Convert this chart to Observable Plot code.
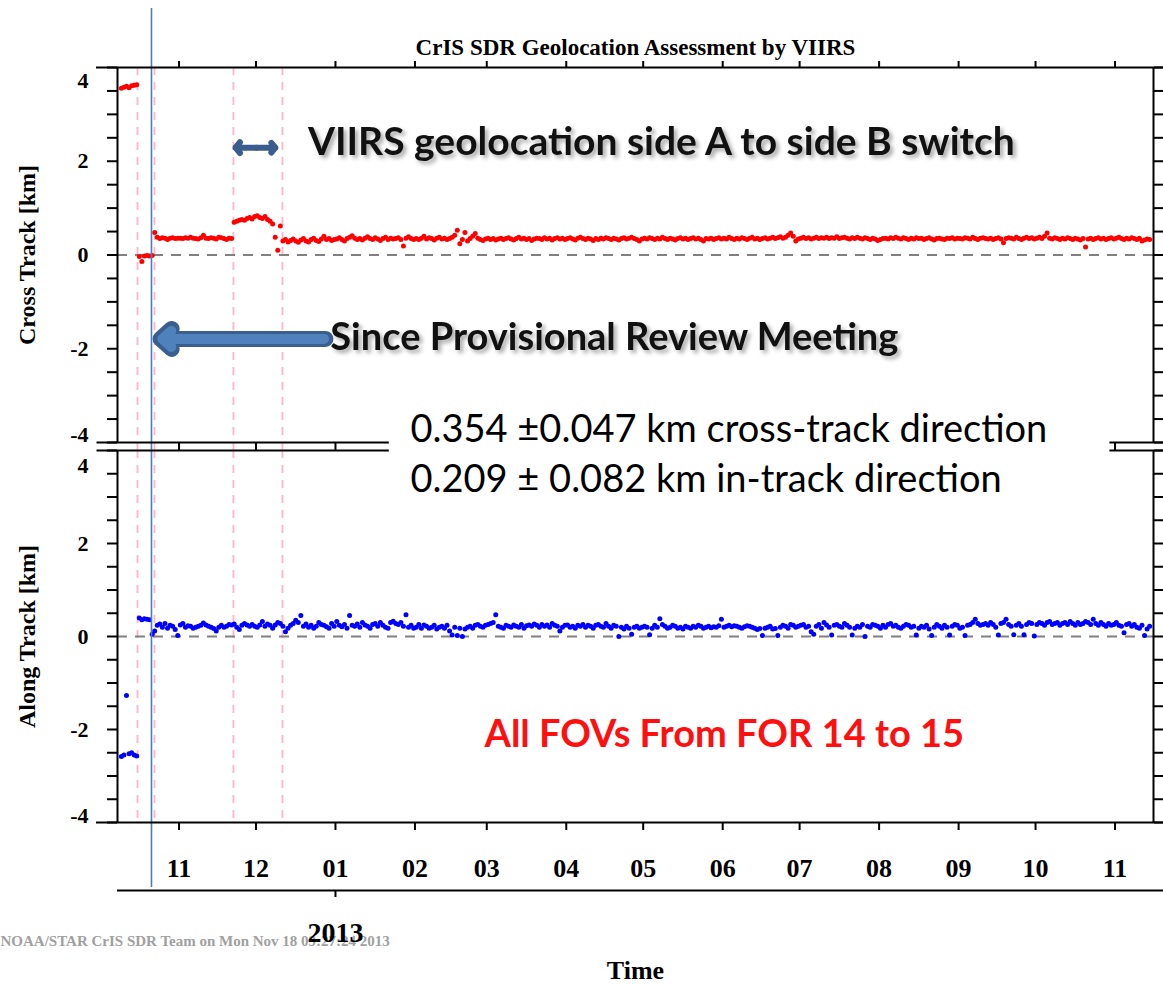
<!DOCTYPE html>
<html><head><meta charset="utf-8">
<script src="https://cdn.jsdelivr.net/npm/d3@7"></script>
<script src="https://cdn.jsdelivr.net/npm/@observablehq/plot@0.6"></script>
<style>
body{margin:0;background:#fff;}
#wrap{position:relative;width:1163px;height:985px;overflow:hidden;background:#fff;}
#wrap svg{position:absolute;left:0;overflow:visible;}
</style></head><body><div id="wrap"></div>
<script>
// ---------------- DATA ----------------
const firstDay = "2012-10-09";   // first daily observation (values are one per day)
// Cross-track offset [km], daily, 2012-10-09 .. 2013-11-14
const crossTrack = [
  // Oct 2012 (9-31)
  3.56,3.58,3.60,3.57,3.61,3.62,3.63,-0.03,-0.14,-0.02,-0.01,-0.02,-0.01,0.48,0.38,0.35,0.37,0.36,0.33,0.36,0.37,0.35,0.36,
  // Nov
  0.36,0.35,0.37,0.36,0.38,0.36,0.35,0.34,0.37,0.42,0.36,0.35,0.37,0.36,0.34,0.38,0.37,0.35,0.33,0.36,0.35,0.70,0.72,0.74,0.76,0.74,0.78,0.80,0.77,0.82,
  // Dec
  0.84,0.80,0.78,0.82,0.76,0.72,0.66,0.38,0.10,0.62,0.30,0.33,0.28,0.31,0.34,0.30,0.27,0.32,0.35,0.30,0.28,0.33,0.36,0.31,0.29,0.34,0.40,0.33,0.35,0.31,0.33,
  // Jan 2013
  0.34,0.37,0.33,0.30,0.35,0.38,0.41,0.36,0.33,0.35,0.32,0.36,0.39,0.35,0.33,0.37,0.34,0.31,0.35,0.38,0.33,0.36,0.34,0.35,0.37,0.33,0.19,0.36,0.39,0.35,0.33,
  // Feb
  0.35,0.33,0.36,0.40,0.34,0.37,0.35,0.32,0.36,0.38,0.34,0.36,0.33,0.35,0.38,0.42,0.53,0.24,0.33,0.48,0.30,0.35,0.40,0.46,0.36,0.33,0.31,0.34,
  // Mar
  0.36,0.33,0.35,0.32,0.34,0.36,0.33,0.35,0.37,0.34,0.32,0.35,0.38,0.34,0.36,0.33,0.35,0.31,0.34,0.36,0.35,0.33,0.37,0.34,0.36,0.32,0.35,0.37,0.34,0.36,0.33,
  // Apr
  0.35,0.37,0.34,0.32,0.36,0.38,0.35,0.33,0.36,0.34,0.31,0.35,0.33,0.36,0.34,0.37,0.35,0.33,0.36,0.34,0.32,0.35,0.37,0.34,0.36,0.38,0.35,0.33,0.30,0.34,
  // May
  0.36,0.34,0.37,0.35,0.33,0.36,0.34,0.38,0.35,0.33,0.36,0.34,0.32,0.35,0.37,0.34,0.36,0.33,0.35,0.37,0.34,0.36,0.33,0.30,0.35,0.34,0.36,0.33,0.35,0.37,0.34,
  // Jun
  0.36,0.34,0.38,0.35,0.33,0.36,0.34,0.37,0.35,0.33,0.36,0.38,0.34,0.36,0.33,0.35,0.37,0.34,0.36,0.38,0.35,0.37,0.39,0.36,0.38,0.42,0.47,0.40,0.30,0.34,
  // Jul
  0.36,0.38,0.35,0.37,0.34,0.36,0.38,0.35,0.37,0.36,0.38,0.35,0.37,0.36,0.39,0.35,0.37,0.38,0.36,0.34,0.37,0.35,0.38,0.36,0.34,0.37,0.35,0.33,0.36,0.34,0.31,
  // Aug
  0.33,0.35,0.36,0.34,0.37,0.35,0.38,0.36,0.34,0.37,0.35,0.33,0.36,0.34,0.37,0.35,0.36,0.33,0.35,0.37,0.34,0.32,0.35,0.36,0.34,0.33,0.36,0.35,0.37,0.34,0.36,
  // Sep
  0.35,0.34,0.37,0.36,0.34,0.38,0.35,0.33,0.36,0.37,0.35,0.34,0.36,0.33,0.35,0.37,0.34,0.26,0.35,0.37,0.36,0.34,0.38,0.35,0.33,0.36,0.38,0.35,0.37,0.34,
  // Oct
  0.36,0.38,0.35,0.40,0.47,0.36,0.34,0.37,0.35,0.33,0.36,0.34,0.37,0.35,0.33,0.36,0.34,0.32,0.35,0.17,0.34,0.36,0.33,0.35,0.37,0.34,0.36,0.33,0.35,0.37,0.34,
  // Nov (1-14)
  0.36,0.38,0.35,0.33,0.36,0.34,0.37,0.35,0.33,0.36,0.30,0.32,0.34,0.33
];
// Along-track offset [km], daily, 2012-10-09 .. 2013-11-14
const alongTrack = [
  // Oct 2012 (9-31)
  -2.58,-2.55,-1.27,-2.52,-2.50,-2.55,-2.57,0.40,0.36,0.38,0.37,0.36,0.05,0.12,0.24,0.27,0.20,0.28,0.18,0.24,0.22,0.15,0.02,
  // Nov
  0.25,0.28,0.20,0.23,0.22,0.18,0.20,0.22,0.24,0.29,0.25,0.22,0.20,0.17,0.12,0.20,0.24,0.20,0.22,0.26,0.25,0.27,0.20,0.15,0.24,0.28,0.25,0.22,0.26,0.22,
  // Dec
  0.20,0.25,0.32,0.22,0.27,0.24,0.18,0.25,0.30,0.28,0.22,0.10,0.18,0.24,0.28,0.35,0.30,0.45,0.22,0.27,0.20,0.24,0.18,0.22,0.30,0.26,0.24,0.21,0.18,0.28,0.22,
  // Jan 2013
  0.32,0.24,0.21,0.26,0.18,0.45,0.24,0.22,0.27,0.20,0.30,0.25,0.22,0.18,0.26,0.28,0.22,0.30,0.24,0.20,0.18,0.30,0.33,0.28,0.26,0.30,0.22,0.47,0.20,0.24,0.18,
  // Feb
  0.20,0.26,0.18,0.25,0.22,0.18,0.20,0.24,0.16,0.20,0.22,0.18,0.24,0.12,0.03,0.20,0.02,0.18,0.00,0.16,0.20,0.22,0.18,0.24,0.26,0.22,0.20,0.24,
  // Mar
  0.26,0.28,0.30,0.47,0.22,0.20,0.18,0.24,0.22,0.20,0.25,0.22,0.20,0.26,0.18,0.23,0.25,0.22,0.27,0.24,0.20,0.26,0.22,0.25,0.20,0.28,0.24,0.22,0.12,0.20,0.24,
  // Apr
  0.25,0.20,0.22,0.18,0.24,0.22,0.26,0.20,0.24,0.22,0.18,0.24,0.26,0.22,0.20,0.28,0.22,0.18,0.24,0.22,0.00,0.20,0.16,0.22,0.18,0.05,0.20,0.22,0.18,0.20,
  // May
  0.22,0.20,0.04,0.18,0.24,0.20,0.38,0.26,0.22,0.18,0.20,0.24,0.22,0.18,0.20,0.16,0.22,0.20,0.18,0.22,0.20,0.24,0.22,0.18,0.20,0.22,0.19,0.21,0.20,0.23,0.37,
  // Jun
  0.20,0.22,0.24,0.21,0.23,0.22,0.20,0.18,0.21,0.23,0.22,0.20,0.18,0.15,0.17,0.02,0.18,0.20,0.22,0.16,0.17,0.02,0.20,0.24,0.22,0.18,0.26,0.24,0.20,0.22,
  // Jul
  0.24,0.26,0.20,0.22,0.10,0.05,0.22,0.26,0.18,0.30,0.25,0.20,0.03,0.24,0.26,0.22,0.20,0.28,0.24,0.20,0.03,0.18,0.22,0.20,0.26,0.00,0.22,0.20,0.26,0.24,0.22,
  // Aug
  0.18,0.24,0.20,0.26,0.28,0.22,0.24,0.20,0.18,0.22,0.26,0.24,0.20,0.22,0.03,0.18,0.22,0.20,0.24,0.16,0.02,0.20,0.26,0.22,0.18,0.24,0.20,0.03,0.22,0.26,0.24,
  // Sep
  0.18,0.20,0.02,0.24,0.26,0.30,0.37,0.28,0.24,0.26,0.28,0.24,0.30,0.26,0.20,0.03,0.28,0.30,0.37,0.26,0.22,0.04,0.24,0.28,0.22,0.04,0.26,0.30,0.28,0.01,
  // Oct
  0.26,0.30,0.28,0.24,0.30,0.32,0.26,0.28,0.30,0.24,0.28,0.30,0.26,0.32,0.28,0.24,0.30,0.26,0.28,0.32,0.30,0.26,0.37,0.28,0.24,0.30,0.26,0.22,0.28,0.24,0.26,
  // Nov (1-14)
  0.30,0.24,0.22,0.08,0.26,0.28,0.22,0.26,0.20,0.18,0.24,0.02,0.16,0.22
];
const timeDomain = ["2012-10-08", "2013-11-16"];
const monthTicks = ["2012-11-01","2012-12-01","2013-01-01","2013-02-01","2013-03-01","2013-04-01","2013-05-01",
  "2013-06-01","2013-07-01","2013-08-01","2013-09-01","2013-10-01","2013-11-01"];
const yearTicks = ["2013-01-01"];
const yLabelTicks = [-2, 0, 2];
const yMinorTicks = [-4,-3.5,-3,-2.5,-2,-1.5,-1,-0.5,0,0.5,1,1.5,2,2.5,3,3.5,4];
// event markers
const eventDates = ["2012-10-15T19:00Z","2012-10-22T10:00Z","2012-11-22T05:00Z","2012-12-11T08:00Z"];
const reviewDate = "2012-10-21T06:00Z";
// texts
const titleText = "CrIS SDR Geolocation Assessment by VIIRS";
const switchText = "VIIRS geolocation side A to side B switch";
const reviewText = "Since Provisional Review Meeting";
const crossStat = "0.354 \u00B10.047 km cross-track direction";
const alongStat = "0.209 \u00B1 0.082 km in-track direction";
const fovText = "All FOVs From FOR 14 to 15";
const footerText = "NOAA/STAR CrIS SDR Team on Mon Nov 18 09:27:24 2013";

// ---------------- BUILD ----------------
const D = s => new Date(s);
const start = D(firstDay + "T12:00Z");
const dayDate = i => new Date(+start + i * 864e5);
const crossRows = crossTrack.map((v, i) => ({date: dayDate(i), v}));
const alongRows = alongTrack.map((v, i) => ({date: dayDate(i), v}));
const xDom = timeDomain.map(D);
const months = monthTicks.map(D);
const years = yearTicks.map(D);
const events = eventDates.map(D);
const review = [D(reviewDate)];
// split border segments (middle part hidden behind the statistics text)
const splitBorder = [{a: D("2012-09-30"), b: D("2013-01-22")}, {a: D("2013-10-30"), b: D("2013-11-20")}];
const gapMonths = [months[0], months[1], months[2], months[12]];

const serif = "'Liberation Serif','Times New Roman',serif";
const sans = "Lato,'Open Sans','Liberation Sans',sans-serif";
const W = 1163, ML = 117, MR = 10;
const none = () => "";
const hy = d => String(d);   // plain hyphen-minus like the original

function shadowText(txt, x, y, size) {
  return Plot.text([txt], {x: () => D(x), y: () => y, text: d => d, textAnchor: "start", fontFamily: sans, fontWeight: 700,
    fontSize: size, fill: "#111", ariaDescription: "shadowed"});
}
function yAxes(dTop, dBot) {
  return [
    Plot.axisY(yMinorTicks, {anchor: "left", tickSize: 10, tickFormat: none, strokeWidth: 2, label: null}),
    Plot.axisY(yMinorTicks, {anchor: "right", tickSize: 10, tickFormat: none, strokeWidth: 2, label: null}),
    Plot.axisY(yLabelTicks, {anchor: "left", tickSize: 0, tickPadding: 29, fontSize: 22, tickFormat: hy, label: null}),
    Plot.axisY([4], {anchor: "left", tickSize: 0, tickPadding: 29, fontSize: 22, dy: dTop, tickFormat: hy, label: null}),
    Plot.axisY([-4], {anchor: "left", tickSize: 0, tickPadding: 29, fontSize: 22, dy: dBot, tickFormat: hy, label: null})
  ];
}

const common = {
  width: W, marginLeft: ML, marginRight: MR,
  x: {type: "utc", domain: xDom},
  y: {domain: [-4, 4]},
  style: {fontFamily: serif, fontWeight: "bold", fontSize: "22px", color: "#000", background: "transparent"}
};

const topPlot = Plot.plot({
  ...common, height: 450, marginTop: 67, marginBottom: 8,
  marks: [
    Plot.ruleX(events, {stroke: "#ffb6c8", strokeWidth: 1.8, strokeDasharray: "8,7", insetBottom: -8}),
    Plot.ruleY([0], {stroke: "#808080", strokeWidth: 2, strokeDasharray: "10,8"}),
    Plot.dot(crossRows, {x: "date", y: "v", r: 2.5, fill: "#ff0000", stroke: "none"}),
    Plot.ruleX(review, {stroke: "#4a7dbf", strokeWidth: 1.6, insetTop: -59, insetBottom: -8}),
    // borders
    Plot.ruleX(xDom, {stroke: "#000", strokeWidth: 2}),
    Plot.ruleY([4], {stroke: "#000", strokeWidth: 2, insetLeft: -21, insetRight: -10}),
    Plot.ruleY(splitBorder, {x1: "a", x2: "b", y: () => -4, stroke: "#000", strokeWidth: 2}),
    // axes
    Plot.axisX(months, {anchor: "top", tickSize: 7, tickFormat: none, strokeWidth: 2, label: null}),
    Plot.axisX(gapMonths, {anchor: "bottom", tickSize: 8, tickFormat: none, strokeWidth: 2, label: null}),
    ...yAxes(13, -8),
    Plot.text(["Cross Track [km]"], {frameAnchor: "left", dx: -90, rotate: -90, textAnchor: "middle", lineAnchor: "middle", text: d => d, fontSize: 24, fontFamily: serif, fontWeight: "bold"}),
    Plot.text([titleText], {frameAnchor: "top", dy: -20, lineAnchor: "middle", text: d => d, fontSize: 23, fontFamily: serif, fontWeight: "bold"}),
    // annotations
    Plot.arrow([{a: D("2012-12-01T05:00Z"), b: D("2012-11-23T00:00Z")}, {a: D("2012-12-01T05:00Z"), b: D("2012-12-08T14:00Z")}],
      {x1: "a", x2: "b", y1: () => 2.29, y2: () => 2.29, stroke: "#3b5d8c", strokeWidth: 6, headLength: 2.6, headAngle: 100}),
    Plot.arrow([{a: D("2012-12-28T02:00Z"), b: D("2012-10-24T19:00Z")}],
      {x1: "a", x2: "b", y1: () => -1.79, y2: () => -1.79, stroke: "#3a5f8f", strokeWidth: 16, headLength: 1.4, headAngle: 84}),
    Plot.arrow([{a: D("2012-12-27T12:00Z"), b: D("2012-10-25T12:00Z")}],
      {x1: "a", x2: "b", y1: () => -1.79, y2: () => -1.79, stroke: "#4f81bd", strokeWidth: 10, headLength: 1.8, headAngle: 84}),
    shadowText(switchText, "2012-12-21T06:00Z", 2.4, 39),
    shadowText(reviewText, "2012-12-30T00:00Z", -1.76, 38),
    Plot.text([crossStat], {x: () => D("2013-01-30T06:00Z"), y: () => -3.74, text: d => d, textAnchor: "start", fontFamily: sans, fontWeight: 400, fontSize: 38, fill: "#000"})
  ]
});

const botPlot = Plot.plot({
  ...common, height: 535, marginTop: 0, marginBottom: 163,
  marks: [
    Plot.ruleX(events, {stroke: "#ffb6c8", strokeWidth: 1.8, strokeDasharray: "8,7"}),
    Plot.ruleY([0], {stroke: "#808080", strokeWidth: 2, strokeDasharray: "10,8"}),
    Plot.dot(alongRows, {x: "date", y: "v", r: 2.5, fill: "#0000ff", stroke: "none"}),
    Plot.ruleX(review, {stroke: "#4a7dbf", strokeWidth: 1.6, insetBottom: -65}),
    // borders
    Plot.ruleX(xDom, {stroke: "#000", strokeWidth: 2}),
    Plot.ruleY(splitBorder, {x1: "a", x2: "b", y: () => 4, stroke: "#000", strokeWidth: 2}),
    Plot.ruleY([-4], {stroke: "#000", strokeWidth: 2, insetLeft: -21, insetRight: -10}),
    Plot.ruleY([-4], {stroke: "#000", strokeWidth: 2, insetRight: -10, dy: 68}),
    // axes
    ...yAxes(15, -7),
    Plot.text([footerText], {frameAnchor: "bottom-left", dx: -ML, dy: 119, textAnchor: "start", lineAnchor: "middle", text: d => d, fill: "#a0a0a0", fontSize: 15, fontFamily: serif, fontWeight: "bold"}),
    Plot.axisX(months, {anchor: "bottom", tickSize: 8, tickPadding: 28, tickFormat: d3.utcFormat("%m"), fontSize: 26, strokeWidth: 2, label: null}),
    Plot.axisX(years, {anchor: "bottom", tickSize: 7, tickPadding: 25, tickFormat: d3.utcFormat("%Y"), fontSize: 28, strokeWidth: 2, dy: 68, label: null}),
    Plot.text(["Time"], {frameAnchor: "bottom", dy: 148, lineAnchor: "middle", text: d => d, fontSize: 26, fontFamily: serif, fontWeight: "bold"}),
    Plot.text(["Along Track [km]"], {frameAnchor: "left", dx: -90, rotate: -90, textAnchor: "middle", lineAnchor: "middle", text: d => d, fontSize: 24, fontFamily: serif, fontWeight: "bold"}),
    // annotations
    Plot.text([alongStat], {x: () => D("2013-01-30T06:00Z"), y: () => 3.38, text: d => d, textAnchor: "start", fontFamily: sans, fontWeight: 400, fontSize: 38, fill: "#000"}),
    Plot.text([fovText], {x: () => D("2013-02-28T03:00Z"), y: () => -2.11, text: d => d, textAnchor: "start", fontFamily: sans, fontWeight: 700, fontSize: 38, fill: "#ff1010"})
  ]
});

const wrap = document.getElementById("wrap");
topPlot.style.top = "0px";
botPlot.style.top = "450px";
wrap.appendChild(topPlot);
wrap.appendChild(botPlot);
// soft drop shadow on the two bold callouts
d3.select(topPlot).selectAll('[aria-description="shadowed"]')
  .style("filter", "drop-shadow(3px 3px 2px rgba(0,0,0,0.35))");
</script></body></html>
